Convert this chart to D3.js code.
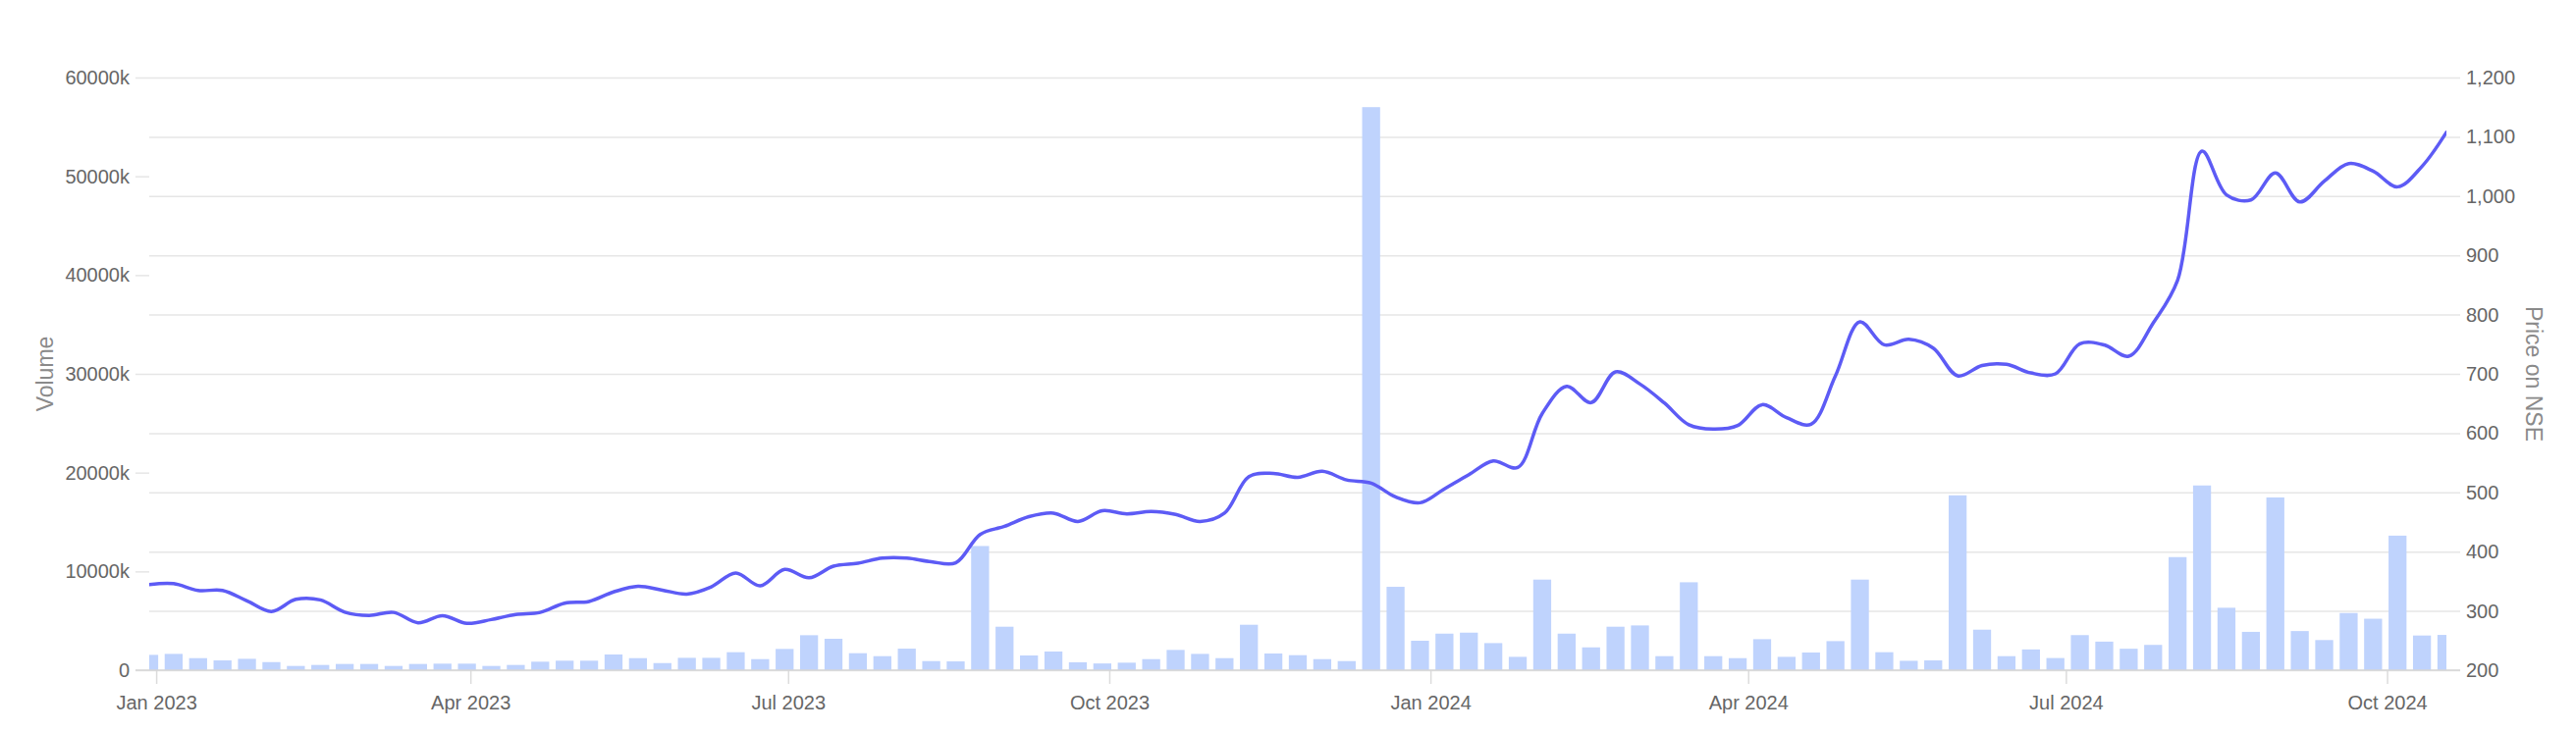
<!DOCTYPE html>
<html><head><meta charset="utf-8">
<script src="https://cdn.jsdelivr.net/npm/d3@7"></script>
<style>
body{margin:0;background:#fff;}
text{font-family:"Liberation Sans",Arial,Helvetica,sans-serif;}
</style>
</head><body>
<svg id="chart" width="2624" height="746"></svg>
<script>
// ---- data (weekly, starting Friday 2022-12-30) ----
const firstWeek = "2022-12-30";
const volumeK = [
 1550,1650,1220,990,1150,820,430,530,630,630,
 430,630,660,660,430,530,860,960,960,1590,
 1220,720,1250,1250,1820,1120,2150,3540,3180,1720,
 1420,2180,920,890,12570,4400,1490,1890,800,680,
 760,1120,2050,1650,1220,4600,1690,1520,1120,920,
 57000,8440,2980,3700,3800,2740,1350,9170,3700,2310,
 4400,4530,1420,8900,1420,1220,3140,1350,1790,2940,
 9170,1820,950,990,17700,4100,1420,2100,1230,3550,
 2890,2170,2560,11450,18700,6320,3880,17490,3960,3050,
 5790,5210,13620,3510,3570
];
const price = [
 344.5,346,334.5,334.5,317,299,319.5,318.5,298,292.5,
 297.5,280,292,279,285.5,294,297.5,313,316,332,
 341.7,335,328.5,340.7,364,342.4,370,356,375.5,380.5,
 389,389,383,381,429,442.8,459,465,451,469,
 463.7,467.6,462.7,451,465,526.7,532,525.5,535.5,521,
 515.6,492.4,482.5,506,530,553,542,633,679,651.4,
 703.3,682.8,650.8,614,606.7,612.8,648,626,615,696.7,
 787.7,749,758.4,743.5,696.7,714,716,701.5,700,750.7,
 748.8,729.8,785.6,858,1075.8,1002,993.4,1039,990,1025,
 1054.8,1042,1015.6,1050,1107.5
];
const volumeTicks = [0,10000,20000,30000,40000,50000,60000];
const priceTicks = [200,300,400,500,600,700,800,900,1000,1100,1200];
const dateTicks = ["2023-01-01","2023-04-01","2023-07-01","2023-10-01","2024-01-01","2024-04-01","2024-07-01","2024-10-01"];

// ---- layout ----
const L = 152, R = 2492, T = 79, B = 683, TICK = 14;
const parse = d3.utcParse("%Y-%m-%d");
const start = parse(firstWeek);
const dates = volumeK.map((_, i) => d3.utcDay.offset(start, 7 * i));
const rows = dates.map((d, i) => ({date: d, vol: volumeK[i], price: price[i]}));

const x = d3.scaleUtc().domain([dates[0], dates[dates.length - 1]]).range([L, R]);
const yV = d3.scaleLinear().domain([0, 60000]).range([B, T]);
const yP = d3.scaleLinear().domain([200, 1200]).range([B, T]);

const svg = d3.select("#chart");
svg.append("defs").append("clipPath").attr("id", "plot")
  .append("rect").attr("x", L).attr("y", 0).attr("width", R - L).attr("height", B);

// gridlines + right axis
const gR = svg.append("g").attr("transform", `translate(${R + TICK},0)`)
  .call(d3.axisRight(yP).tickValues(priceTicks).tickFormat(d3.format(","))
    .tickSizeInner(-(R + TICK - L)).tickSizeOuter(0).tickPadding(6));
gR.select(".domain").remove();
gR.selectAll(".tick line").attr("stroke", "#e6e6e6").attr("stroke-width", 1.5);
gR.selectAll(".tick text").attr("fill", "#666").attr("font-size", 20);

// left axis
const gL = svg.append("g").attr("transform", `translate(${L},0)`)
  .call(d3.axisLeft(yV).tickValues(volumeTicks).tickFormat(d => d === 0 ? "0" : d + "k")
    .tickSizeInner(TICK).tickSizeOuter(0).tickPadding(6));
gL.select(".domain").remove();
gL.selectAll(".tick line").attr("stroke", "#e6e6e6").attr("stroke-width", 1.5);
gL.selectAll(".tick text").attr("fill", "#666").attr("font-size", 20);

// bars
const week = x(dates[1]) - x(dates[0]);
const bw = week * 0.735;
svg.append("g").attr("clip-path", "url(#plot)")
  .selectAll("rect").data(rows).join("rect")
  .attr("x", d => x(d.date) - bw / 2)
  .attr("width", bw)
  .attr("y", d => yV(d.vol))
  .attr("height", d => B - yV(d.vol))
  .attr("fill", "#bfd3fd");

// x axis
const gX = svg.append("g").attr("transform", `translate(0,${B})`)
  .call(d3.axisBottom(x).tickValues(dateTicks.map(parse)).tickFormat(d3.utcFormat("%b %Y"))
    .tickSizeInner(TICK).tickSizeOuter(0).tickPadding(12));
gX.select(".domain").remove();
gX.selectAll(".tick line").attr("stroke", "#dcdcdc").attr("stroke-width", 1.5);
gX.selectAll(".tick text").attr("fill", "#666").attr("font-size", 20);
svg.append("line").attr("x1", L - TICK).attr("x2", R + TICK).attr("y1", B).attr("y2", B)
  .attr("stroke", "#d6d6d6").attr("stroke-width", 1.5);

// price line
svg.append("path").datum(rows).attr("clip-path", "url(#plot)")
  .attr("fill", "none").attr("stroke", "#5d5bf5").attr("stroke-width", 3.5)
  .attr("stroke-linejoin", "round").attr("stroke-linecap", "round")
  .attr("d", d3.line().x(d => x(d.date)).y(d => yP(d.price)).curve(d3.curveCatmullRom.alpha(0.5)));

// axis titles
svg.append("text").attr("transform", `translate(46,${(T + B) / 2}) rotate(-90)`)
  .attr("text-anchor", "middle").attr("dy", "0.35em")
  .attr("fill", "#8a8a8a").attr("font-size", 23).text("Volume");
svg.append("text").attr("transform", `translate(2581,${(T + B) / 2}) rotate(90)`)
  .attr("text-anchor", "middle").attr("dy", "0.35em")
  .attr("fill", "#8a8a8a").attr("font-size", 23).text("Price on NSE");
</script>
</body></html>
